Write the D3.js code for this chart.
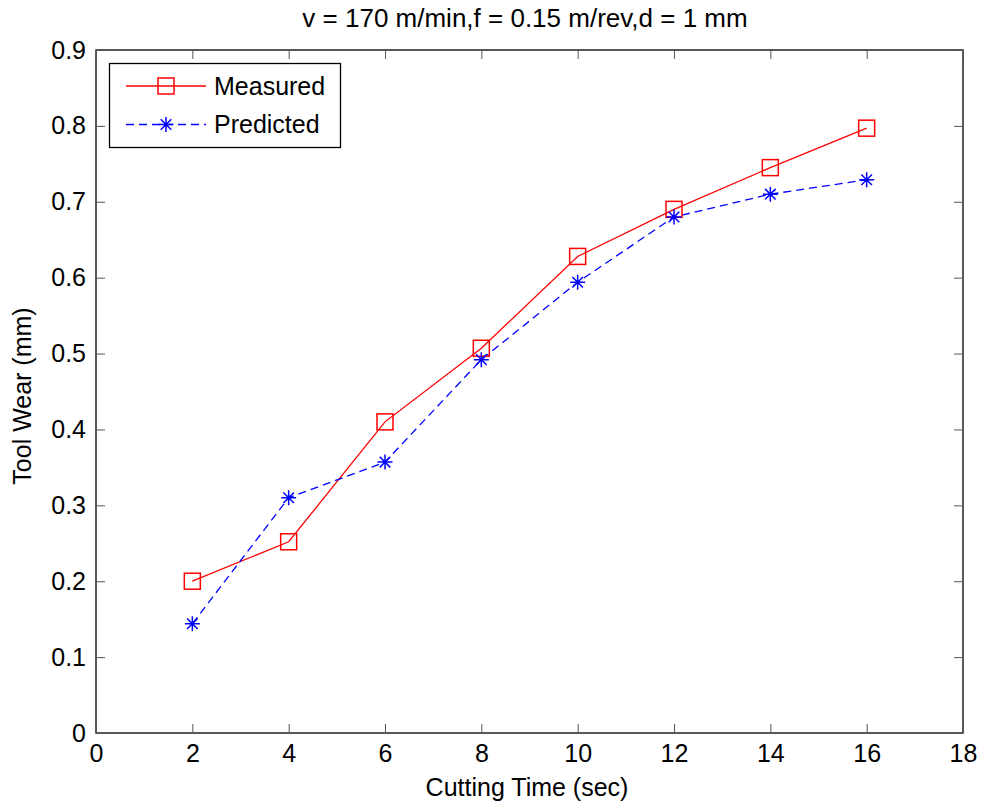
<!DOCTYPE html>
<html><head><meta charset="utf-8">
<script src="https://cdn.jsdelivr.net/npm/d3@7"></script>
<style>body{margin:0;background:#fff}svg{display:block}text{font-family:"Liberation Sans",Arial,sans-serif}</style>
</head><body>
<script>
const times = [2, 4, 6, 8, 10, 12, 14, 16];
const measured = [0.200, 0.252, 0.410, 0.507, 0.628, 0.690, 0.745, 0.797];
const predicted = [0.144, 0.310, 0.357, 0.492, 0.594, 0.680, 0.710, 0.729];
const xTicks = [0, 2, 4, 6, 8, 10, 12, 14, 16, 18];
const yTicks = [0, 0.1, 0.2, 0.3, 0.4, 0.5, 0.6, 0.7, 0.8, 0.9];
const seriesNames = ["Measured", "Predicted"];
const title = "v = 170 m/min,f = 0.15 m/rev,d = 1 mm";

const W = 985, H = 810;
const L = 96, R = 963, T = 50, B = 733;
const FS = 25;
const svg = d3.select("body").append("svg").attr("width", W).attr("height", H);
const x = d3.scaleLinear().domain([0, 18]).range([L, R]);
const y = d3.scaleLinear().domain([0, 0.9]).range([B, T]);

// frame
svg.append("rect").attr("x", L).attr("y", T).attr("width", R - L).attr("height", B - T)
  .attr("fill", "none").attr("stroke", "#000").attr("stroke-width", 1.3);

const tl = 9;
const ax = (g, axis) => { g.call(axis); g.select(".domain").remove(); g.selectAll(".tick line").attr("stroke", "#555"); g.selectAll("text").attr("font-size", FS).attr("fill", "#000"); };
svg.append("g").attr("transform", `translate(0,${B})`).call(g => { ax(g, d3.axisBottom(x).tickValues(xTicks).tickSizeInner(-tl).tickSizeOuter(0).tickFormat(d3.format("d"))); g.selectAll("text").attr("y", 29).attr("dy", 0); });
svg.append("g").attr("transform", `translate(0,${T})`).call(g => { ax(g, d3.axisTop(x).tickValues(xTicks).tickSizeInner(-tl).tickSizeOuter(0)); g.selectAll("text").remove(); });
svg.append("g").attr("transform", `translate(${L},0)`).call(g => { ax(g, d3.axisLeft(y).tickValues(yTicks).tickSizeInner(-tl).tickSizeOuter(0).tickFormat(d => d === 0 ? "0" : d3.format(".1f")(d))); g.selectAll("text").attr("x", -10).attr("dy", 0).attr("y", 8); });
svg.append("g").attr("transform", `translate(${R},0)`).call(g => { ax(g, d3.axisRight(y).tickValues(yTicks).tickSizeInner(-tl).tickSizeOuter(0)); g.selectAll("text").remove(); });

// lines
const line = d3.line().x(d => x(d[0])).y(d => y(d[1]));
const mData = times.map((t, i) => [t, measured[i]]);
const pData = times.map((t, i) => [t, predicted[i]]);
svg.append("path").datum(mData).attr("d", line).attr("fill", "none").attr("stroke", "#ff0000").attr("stroke-width", 1.3);
svg.append("path").datum(pData).attr("d", line).attr("fill", "none").attr("stroke", "#0000ff").attr("stroke-width", 1.3).attr("stroke-dasharray", "8,5");

const sq = 16;
function square(g, cx, cy) {
  g.append("rect").attr("x", cx - sq / 2).attr("y", cy - sq / 2).attr("width", sq).attr("height", sq)
    .attr("fill", "none").attr("stroke", "#ff0000").attr("stroke-width", 1.5);
}
function star(g, cx, cy) {
  const r = 7.5, d = 5.3;
  const p = `M${cx - r},${cy}H${cx + r}M${cx},${cy - r}V${cy + r}M${cx - d},${cy - d}L${cx + d},${cy + d}M${cx - d},${cy + d}L${cx + d},${cy - d}`;
  g.append("path").attr("d", p).attr("stroke", "#0000ff").attr("stroke-width", 1.5).attr("fill", "none");
}
const mg = svg.append("g");
mData.forEach(d => square(mg, x(d[0]), y(d[1])));
const pg = svg.append("g");
pData.forEach(d => star(pg, x(d[0]), y(d[1])));

// legend
const lg = svg.append("g");
lg.append("rect").attr("x", 109.5).attr("y", 63.5).attr("width", 231).attr("height", 84)
  .attr("fill", "#fff").attr("stroke", "#000").attr("stroke-width", 1.3);
lg.append("line").attr("x1", 126).attr("x2", 206).attr("y1", 86).attr("y2", 86).attr("stroke", "#ff0000").attr("stroke-width", 1.3);
square(lg, 166, 86);
lg.append("line").attr("x1", 126).attr("x2", 206).attr("y1", 124.5).attr("y2", 124.5).attr("stroke", "#0000ff").attr("stroke-width", 1.3).attr("stroke-dasharray", "8,5");
star(lg, 166, 124.5);
lg.selectAll("text.l").data(seriesNames).enter().append("text")
  .attr("x", 214).attr("y", (d, i) => [95, 133][i]).attr("font-size", FS).text(d => d);

// labels
svg.append("text").attr("x", 525).attr("y", 27).attr("text-anchor", "middle").attr("font-size", 26).text(title);
svg.append("text").attr("x", 527).attr("y", 796).attr("text-anchor", "middle").attr("font-size", FS).text("Cutting Time (sec)");
svg.append("text").attr("transform", `translate(31,396) rotate(-90)`).attr("text-anchor", "middle").attr("font-size", FS).text("Tool Wear (mm)");
</script>
</body></html>
